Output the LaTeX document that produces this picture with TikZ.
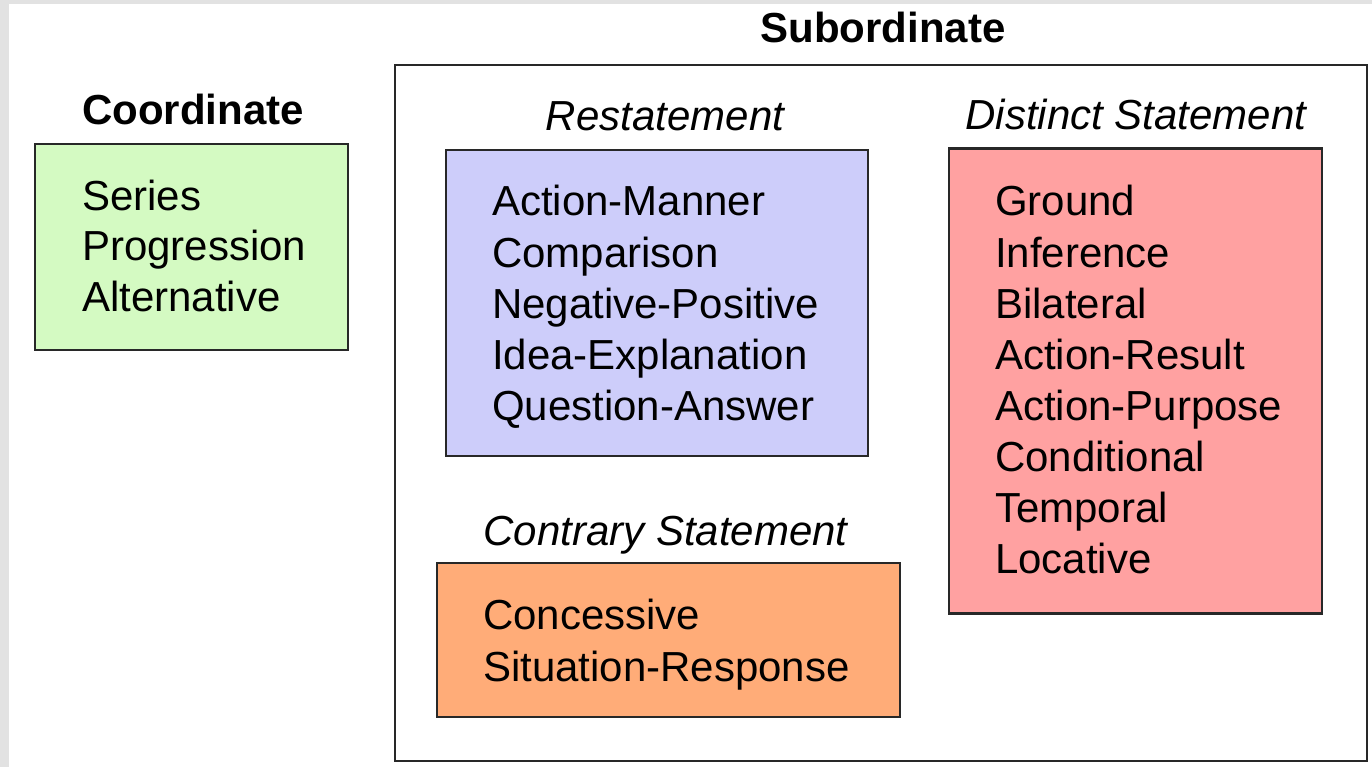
\documentclass[tikz,border=0pt]{standalone}
\usepackage{fontspec}
\setmainfont{Liberation Sans}
\definecolor{framegray}{RGB}{226,226,226}
\definecolor{cgreen}{RGB}{212,250,194}
\definecolor{cblue}{RGB}{205,205,250}
\definecolor{cpink}{RGB}{255,161,161}
\definecolor{corange}{RGB}{255,172,120}
\definecolor{edge}{RGB}{40,40,40}
\tikzset{
  boxframe/.style={draw=edge, line width=2.8pt, inner sep=0pt},
  item/.style={anchor=base west, inner sep=0pt, font=\fontsize{42}{50}\selectfont, text=black},
  ititle/.style={anchor=base, inner sep=0pt, font=\fontsize{42}{50}\selectfont\itshape},
  btitle/.style={anchor=base, inner sep=0pt, font=\fontsize{42}{50}\selectfont\bfseries},
}
\begin{document}
\begin{tikzpicture}[x=1pt,y=-1pt]
\useasboundingbox (0,0) rectangle (1372,767);
\fill[framegray] (0,0) rectangle (1372,767);
\fill[white] (9,4) rectangle (1372,767);
% outer subordinate box
\node[boxframe, fill=white, minimum width=972pt, minimum height=696pt] (sub) at (881,413) {};
\node[btitle] (subt) at (883,43) {Subordinate};
% coordinate
\node[btitle] (coordt) at (193,125) {Coordinate};
\node[boxframe, fill=cgreen, minimum width=313pt, minimum height=206pt] (coord) at (191.5,247) {};
\foreach \t [count=\i from 0] in {Series,Progression,Alternative}
  \node[item] (co\i) at (82,211+50*\i) {\t};
% restatement
\node[ititle] (rest) at (665,131) {Restatement};
\node[boxframe, fill=cblue, minimum width=422pt, minimum height=306pt] (res) at (657,303) {};
\foreach \t [count=\i from 0] in {Action-Manner,Comparison,Negative-Positive,Idea-Explanation,Question-Answer}
  \node[item] (re\i) at (492,216+51*\i) {\t};
% distinct
\node[ititle] (dist) at (1136,130) {Distinct Statement};
\node[boxframe, fill=cpink, minimum width=373pt, minimum height=465pt] (dis) at (1135.5,381) {};
\foreach \t [count=\i from 0] in {Ground,Inference,Bilateral,Action-Result,Action-Purpose,Conditional,Temporal,Locative}
  \node[item] (di\i) at (995,216+51*\i) {\t};
% contrary
\node[ititle] (cont) at (665.5,545) {Contrary Statement};
\node[boxframe, fill=corange, minimum width=463pt, minimum height=154pt] (con) at (668.5,640) {};
\foreach \t [count=\i from 0] in {Concessive,Situation-Response}
  \node[item] (cn\i) at (483,629+52*\i) {\t};
\end{tikzpicture}
\end{document}
